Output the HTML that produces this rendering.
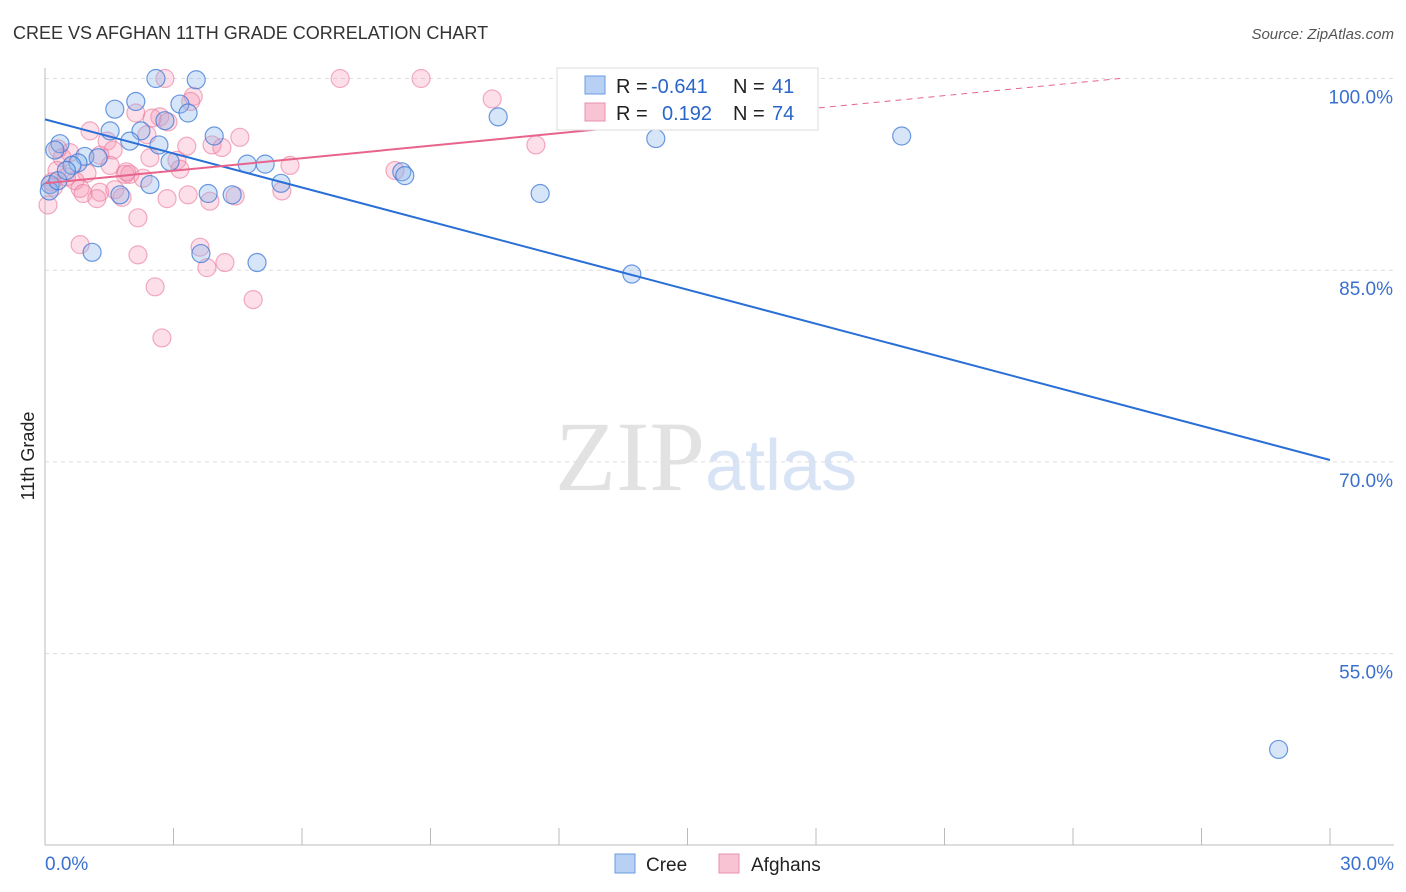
<!DOCTYPE html>
<html><head><meta charset="utf-8"><style>
body{margin:0;background:#fff;font-family:"Liberation Sans",sans-serif}
</style></head><body>
<svg id="c" width="1406" height="892" style="position:absolute;left:0;top:0">
<text x="13" y="39" font-size="18" fill="#333">CREE VS AFGHAN 11TH GRADE CORRELATION CHART</text>
<text x="1394" y="39" font-size="15" fill="#555" text-anchor="end" font-style="italic">Source: ZipAtlas.com</text>
<text x="555" y="490" font-size="100" fill="#e2e2e2" font-family="Liberation Serif,serif">ZIP<tspan fill="#d8e4f5" font-family="Liberation Sans,sans-serif" font-size="72">atlas</tspan></text>
<text x="34" y="456" font-size="18" fill="#222" transform="rotate(-90 34 456)" text-anchor="middle">11th Grade</text>
<g id="grid"></g><g id="pts"></g><g id="lines"></g>
<g font-size="20">
<rect x="557" y="68" width="261" height="62" fill="#fff" stroke="#ddd"/>
<rect x="585" y="76" width="20" height="18" fill="#b8d0f3" stroke="#6a9be0"/>
<rect x="585" y="103" width="20" height="18" fill="#f8c4d4" stroke="#e890ac"/>
<text x="616" y="93" fill="#222">R =</text><text x="651" y="93" fill="#2a66c9">-0.641</text>
<text x="733" y="93" fill="#222">N =</text><text x="772" y="93" fill="#2a66c9">41</text>
<text x="616" y="120" fill="#222">R =</text><text x="662" y="120" fill="#2a66c9">0.192</text>
<text x="733" y="120" fill="#222">N =</text><text x="772" y="120" fill="#2a66c9">74</text>
</g>
<g>
<rect x="615" y="854" width="20" height="19" fill="#b8d0f3" stroke="#6a9be0"/>
<text x="646" y="871" font-size="19" fill="#222">Cree</text>
<rect x="719" y="854" width="20" height="19" fill="#f8c4d4" stroke="#e890ac"/>
<text x="751" y="871" font-size="19" fill="#222">Afghans</text>
</g>
</svg>
<script>
const yTicks=[100,85,70,55];
const xTickLabels=["0.0%","30.0%"];
const creeX=[2.59,3.53,1.63,2.12,3.15,3.34,2.80,1.52,2.24,3.95,0.35,0.23,1.98,2.66,0.93,1.24,0.77,0.63,2.92,4.72,5.14,2.45,3.81,4.37,1.75,5.51,1.10,3.64,4.95,10.58,14.26,11.56,8.33,8.40,13.70,20.0,28.8,0.12,0.1,0.3,0.5];
const creeY=[100,99.9,97.6,98.2,98.0,97.3,96.7,95.9,95.9,95.5,94.9,94.4,95.1,94.8,93.9,93.8,93.4,93.2,93.5,93.3,93.3,91.7,91.0,90.9,90.9,91.8,86.4,86.3,85.6,97.0,95.3,91.0,92.7,92.4,84.7,95.5,47.5,91.7,91.2,92.0,92.8];
const afgX=[2.8,6.89,8.78,3.46,3.4,10.44,2.12,2.68,2.87,1.05,2.38,4.55,3.9,3.31,4.13,1.45,1.59,11.46,0.58,0.4,1.28,2.45,3.08,5.72,1.52,0.28,0.98,3.15,8.17,1.87,1.98,2.29,0.7,0.16,0.82,0.89,1.28,1.63,1.21,1.8,3.34,2.85,4.44,5.53,3.85,0.07,2.17,0.82,3.62,2.17,4.2,3.78,2.57,4.86,2.73,0.2,0.5,0.3,2.5,1.9];
const afgY=[100,100,100,98.6,98.2,98.4,97.3,97.0,96.6,95.9,95.6,95.4,94.8,94.7,94.6,95.1,94.4,94.8,94.2,93.8,94.0,93.8,93.6,93.2,93.2,92.8,92.6,92.9,92.8,92.5,92.5,92.2,92.0,91.9,91.4,91.0,91.1,91.3,90.6,90.7,90.9,90.6,90.8,91.2,90.4,90.1,89.1,87.0,86.8,86.2,85.6,85.2,83.7,82.7,79.7,91.5,92.3,94.5,96.9,92.7];
const creeLine=[96.8,70.15];
const afgLine=[91.8,101.6];
const sx=v=>45+v/30*1285;
const sy=v=>78.5+(100-v)/15*191.7;
const NS="http://www.w3.org/2000/svg";
function mk(t,a,p){const e=document.createElementNS(NS,t);for(const k in a)e.setAttribute(k,a[k]);p.appendChild(e);return e;}
const g=document.getElementById('grid');
yTicks.forEach(v=>{
 const l=mk('line',{x1:45,x2:1394,y1:sy(v),y2:sy(v),stroke:'#ddd','stroke-dasharray':'4,4'},g);
 
 
 const t=mk('text',{x:1393,y:sy(v)+25,'font-size':19,fill:'#3a70cf','text-anchor':'end'},g);
 t.textContent=v.toFixed(1)+'%';
 
 
});
mk('line',{x1:45,x2:45,y1:68,y2:845,stroke:'#bbb'},g);
mk('line',{x1:45,x2:1394,y1:845,y2:845,stroke:'#bbb'},g);
for(let i=0;i<=10;i++){mk('line',{x1:sx(i*3),x2:sx(i*3),y1:828,y2:845,stroke:'#bbb'},g);}
[[0,'start',45],[1,'end',1394]].forEach(([i,a,x])=>{
 const t=mk('text',{x:x,y:870,'font-size':19,fill:'#3a70cf','text-anchor':a},g);
 t.textContent=xTickLabels[i];
 
 
});
const p=document.getElementById('pts');
afgX.forEach((x,i)=>{
 const c=mk('circle',{cx:sx(x),cy:sy(afgY[i]),r:9,fill:'rgba(244,150,180,0.3)',stroke:'rgba(235,120,155,0.6)','stroke-width':1.2},p);
 
 
});
creeX.forEach((x,i)=>{
 const c=mk('circle',{cx:sx(x),cy:sy(creeY[i]),r:9,fill:'rgba(140,180,235,0.35)',stroke:'rgba(60,120,215,0.75)','stroke-width':1.2},p);
 
 
});
const L=document.getElementById('lines');
const bl=mk('line',{x1:sx(0),y1:sy(creeLine[0]),x2:sx(30),y2:sy(creeLine[1]),stroke:'#2a6fd6','stroke-width':2},L);


const ay=x=>afgLine[0]+(afgLine[1]-afgLine[0])*x/30;
const pl=mk('line',{x1:sx(0),y1:sy(ay(0)),x2:sx(15),y2:sy(ay(15)),stroke:'#e8648c','stroke-width':2},L);


const pd=mk('line',{x1:sx(15),y1:sy(ay(15)),x2:sx(25.1),y2:sy(ay(25.1)),stroke:'#e8648c','stroke-width':1,'stroke-dasharray':'6,5'},L);


</script>
</body></html>
